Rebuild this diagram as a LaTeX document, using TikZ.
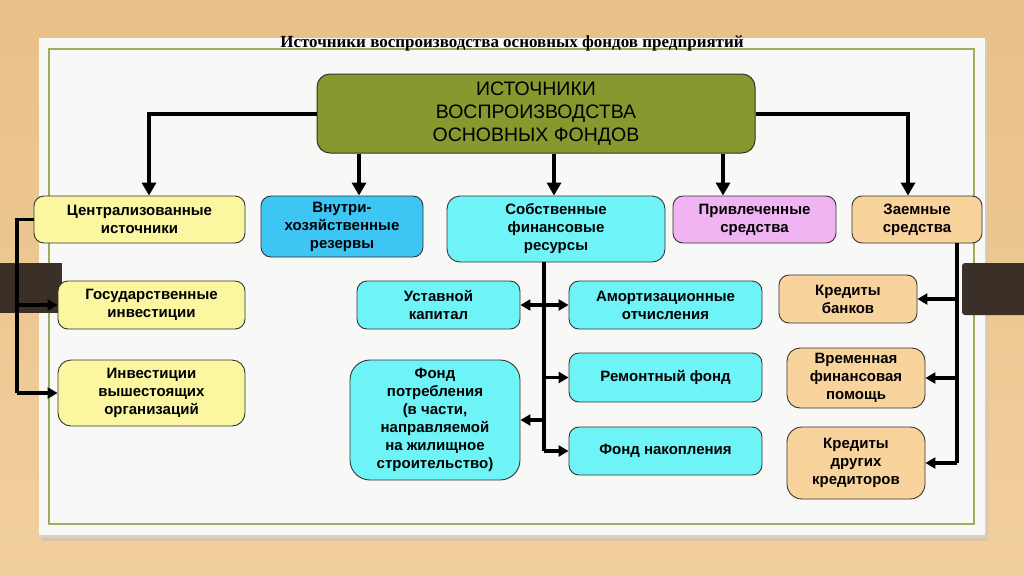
\documentclass[tikz,border=0pt]{standalone}
\usepackage{fontspec}
\setmainfont{Liberation Sans}
\newfontfamily\titlefont{Liberation Serif}
\usetikzlibrary{arrows.meta}
\definecolor{bgtop}{HTML}{E9C089}
\definecolor{bgbot}{HTML}{F1CF9C}
\definecolor{paper}{HTML}{F8F8F6}
\definecolor{frameg}{HTML}{9DAE5E}
\definecolor{clipcol}{HTML}{3A3028}
\definecolor{olive}{HTML}{86992E}
\definecolor{yel}{HTML}{FAF7A0}
\definecolor{blu}{HTML}{3DC5F3}
\definecolor{cya}{HTML}{6EF4F7}
\definecolor{pnk}{HTML}{EFB4F1}
\definecolor{pch}{HTML}{F9D39C}
\definecolor{edge}{HTML}{333333}
\tikzset{
  box/.style={draw=edge, line width=0.9pt, rounded corners=10pt, align=center,
    inner sep=0pt, font=\bfseries\fontsize{15}{18}\selectfont, text=black},
  bigbox/.style={draw=edge, line width=1pt, rounded corners=13pt, align=center,
    inner sep=0pt, font=\fontsize{19.5}{23}\selectfont, text=black, fill=olive},
  topln/.style={line width=4pt, draw=black, -{Triangle[width=14pt,length=13pt]}},
  plainln/.style={line width=3.4pt, draw=black},
  arr/.style={line width=3.4pt, draw=black, -{Triangle[width=11pt,length=10pt]}},
  darr/.style={line width=3.4pt, draw=black, {Triangle[width=11pt,length=10pt]}-{Triangle[width=11pt,length=10pt]}}
}
\begin{document}
\begin{tikzpicture}[x=1pt,y=-1pt]
\useasboundingbox (0,0) rectangle (1024,574);
% background
\shade[top color=bgtop, bottom color=bgbot] (0,0) rectangle (1024,574);
% paper shadow
\fill[black!25, opacity=0.5] (42,42) rectangle (988,541);
\fill[black!15, opacity=0.5] (40,40) rectangle (987,538);
\fill[paper] (39,38) rectangle (985,535);
\draw[frameg, line width=1.2pt] (49,49) rectangle (974,524);
% binder bars
\fill[clipcol] (0,263) rectangle (62,313);
\fill[clipcol, rounded corners=3pt] (962,263) rectangle (1030,315);
% title
\node[inner sep=0pt, anchor=base] (title) at (512,47)
  {\titlefont\fontsize{17}{20}\selectfont\bfseries Источники воспроизводства основных фондов предприятий};
% boxes
\node[bigbox, minimum width=438pt, minimum height=79pt] (main) at (536,113.5)
  {ИСТОЧНИКИ\\ВОСПРОИЗВОДСТВА\\ОСНОВНЫХ ФОНДОВ};
\node[box, fill=yel, minimum width=211pt, minimum height=47pt] (cent) at (139.5,219.5) {Централизованные\\источники};
\node[box, fill=blu, minimum width=162pt, minimum height=61pt] (vnu) at (342,226.5) {Внутри-\\хозяйственные\\резервы};
\node[box, fill=cya, minimum width=218pt, minimum height=66pt, rounded corners=13pt] (sob) at (556,229) {Собственные\\финансовые\\ресурсы};
\node[box, fill=pnk, minimum width=163pt, minimum height=47pt] (priv) at (754.5,219.5) {Привлеченные\\средства};
\node[box, fill=pch, minimum width=130pt, minimum height=47pt] (zaem) at (917,219.5) {Заемные\\средства};
\node[box, fill=yel, minimum width=187pt, minimum height=48pt] (gos) at (151.5,305) {Государственные\\инвестиции};
\node[box, fill=yel, minimum width=187pt, minimum height=66pt, rounded corners=13pt] (inv) at (151.5,393) {Инвестиции\\вышестоящих\\организаций};
\node[box, fill=cya, minimum width=163pt, minimum height=48pt] (ust) at (438.5,305) {Уставной\\капитал};
\node[box, fill=cya, minimum width=193pt, minimum height=48pt] (amort) at (665.5,305) {Амортизационные\\отчисления};
\node[box, fill=cya, minimum width=193pt, minimum height=49pt] (rem) at (665.5,377.5) {Ремонтный фонд};
\node[box, fill=cya, minimum width=170pt, minimum height=120pt, rounded corners=20pt] (potr) at (435,420)
  {Фонд\\потребления\\(в части,\\направляемой\\на жилищное\\строительство)};
\node[box, fill=cya, minimum width=193pt, minimum height=48pt] (nak) at (665.5,451) {Фонд накопления};
\node[box, fill=pch, minimum width=138pt, minimum height=48pt] (kb) at (848,299) {Кредиты\\банков};
\node[box, fill=pch, minimum width=138pt, minimum height=60pt, rounded corners=13pt] (vrem) at (856,378) {Временная\\финансовая\\помощь};
\node[box, fill=pch, minimum width=138pt, minimum height=72pt, rounded corners=15pt] (kdr) at (856,463) {Кредиты\\других\\кредиторов};
% helper coordinates
\coordinate (xa) at (149,0);
\coordinate (xb) at (359,0);
\coordinate (xc) at (554,0);
\coordinate (xd) at (723,0);
\coordinate (xe) at (908,0);
\coordinate (xl) at (17,0);
\coordinate (xt) at (544,0);
\coordinate (xr) at (957,0);
% top connectors
\draw[topln] (main.west) -| (xa |- cent.north);
\draw[topln] (main.east) -| (xe |- zaem.north);
\draw[topln] (xb |- main.south) -- (xb |- vnu.north);
\draw[topln] (xc |- main.south) -- (xc |- sob.north);
\draw[topln] (xd |- main.south) -- (xd |- priv.north);
% left tree
\draw[plainln] (cent.west) -| (xl |- inv.west);
\draw[arr] (xl |- gos.west) -- (gos.west);
\draw[arr] (xl |- inv.west) -- (inv.west);
% middle tree
\draw[plainln] (xt |- sob.south) -- (xt |- nak.west);
\draw[darr] (ust.east) -- (amort.west);
\draw[arr] (xt |- rem.west) -- (rem.west);
\draw[arr] (xt |- potr.east) -- (potr.east);
\draw[arr] (xt |- nak.west) -- (nak.west);
% right tree
\draw[plainln] (xr |- zaem.south) -- (xr |- kdr.east);
\draw[arr] (xr |- kb.east) -- (kb.east);
\draw[arr] (xr |- vrem.east) -- (vrem.east);
\draw[arr] (xr |- kdr.east) -- (kdr.east);
\end{tikzpicture}
\end{document}
